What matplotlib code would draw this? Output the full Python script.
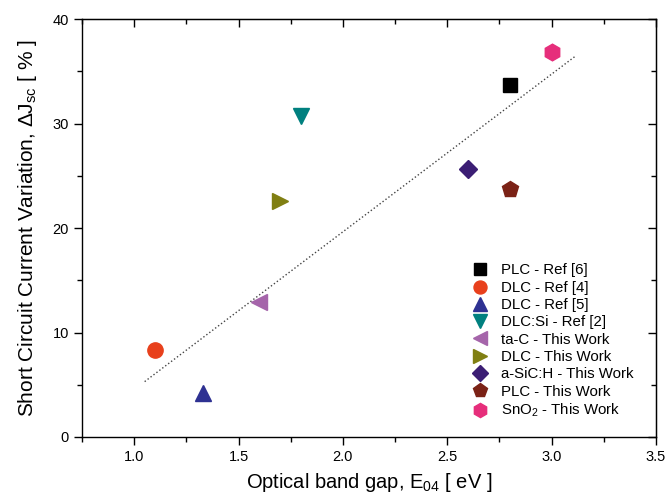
import matplotlib
matplotlib.use('Agg')
import matplotlib.pyplot as plt
from matplotlib.ticker import MultipleLocator

plt.rcParams['font.family'] = ['Liberation Sans', 'DejaVu Sans']
plt.rcParams['mathtext.default'] = 'regular'

# data
labels = ['PLC - Ref [6]', 'DLC - Ref [4]', 'DLC - Ref [5]', 'DLC:Si - Ref [2]',
          'ta-C - This Work', 'DLC - This Work', 'a-SiC:H - This Work',
          'PLC - This Work', 'SnO$_2$ - This Work']
gap = [2.8, 1.1, 1.33, 1.8, 1.6, 1.7, 2.6, 2.8, 3.0]
djsc = [33.7, 8.3, 4.2, 30.7, 12.9, 22.6, 25.7, 23.7, 36.9]
markers = ['s', 'o', '^', 'v', '<', '>', 'D', 'p', 'h']
colors = ['#000000', '#E8401C', '#2E3192', '#00807F', '#A565AA',
          '#807F12', '#3B1E74', '#7B2216', '#E62E7B']
sizes = [10, 11, 12, 12, 12, 12, 9, 12, 12]

# trend line endpoints
fit_x = [1.05, 3.11]
fit_y = [5.3, 36.4]

fig = plt.figure(figsize=(6.67, 5.04), dpi=100)
ax = fig.add_axes([0.123, 0.133, 0.8605, 0.829])

ax.plot(fit_x, fit_y, linestyle=':', color='#444444', linewidth=1.0)
for x, y, m, c, s, lab in zip(gap, djsc, markers, colors, sizes, labels):
    ax.plot(x, y, linestyle='none', marker=m, color=c, markersize=s, label=lab)

ax.set_xlim(0.75, 3.5)
ax.set_ylim(0, 40)
ax.xaxis.set_major_locator(MultipleLocator(0.5))
ax.xaxis.set_minor_locator(MultipleLocator(0.25))
ax.yaxis.set_major_locator(MultipleLocator(10))
ax.yaxis.set_minor_locator(MultipleLocator(5))
ax.tick_params(which='both', direction='out', top=False, right=False, labelsize=10.5, width=1.0)
ax.tick_params(which='major', length=6)
ax.tick_params(which='minor', length=3.5)
ax.xaxis.set_major_formatter(matplotlib.ticker.FormatStrFormatter('%.1f'))

# inward ticks on top and right
sec_x = ax.secondary_xaxis('top')
sec_x.xaxis.set_major_locator(MultipleLocator(0.5))
sec_x.xaxis.set_minor_locator(MultipleLocator(0.25))
sec_x.tick_params(which='both', direction='in', labeltop=False, width=1.0)
sec_x.tick_params(which='major', length=6)
sec_x.tick_params(which='minor', length=3.5)
sec_y = ax.secondary_yaxis('right')
sec_y.yaxis.set_major_locator(MultipleLocator(10))
sec_y.yaxis.set_minor_locator(MultipleLocator(5))
sec_y.tick_params(which='both', direction='in', labelright=False, width=1.0)
sec_y.tick_params(which='major', length=6)
sec_y.tick_params(which='minor', length=3.5)

for sp in ax.spines.values():
    sp.set_linewidth(1.0)

ax.set_xlabel('Optical band gap, E$_{04}$ [ eV ]', fontsize=14.5, labelpad=5)
ax.set_ylabel('Short Circuit Current Variation, $\\Delta$J$_{sc}$ [ % ]', fontsize=15,
              labelpad=10)

ax.legend(loc='lower right', bbox_to_anchor=(0.984, 0.01), frameon=False,
          fontsize=10.8, handletextpad=0.4, labelspacing=0.22, markerscale=0.85,
          numpoints=1)

fig.savefig('out.png', dpi=100)
